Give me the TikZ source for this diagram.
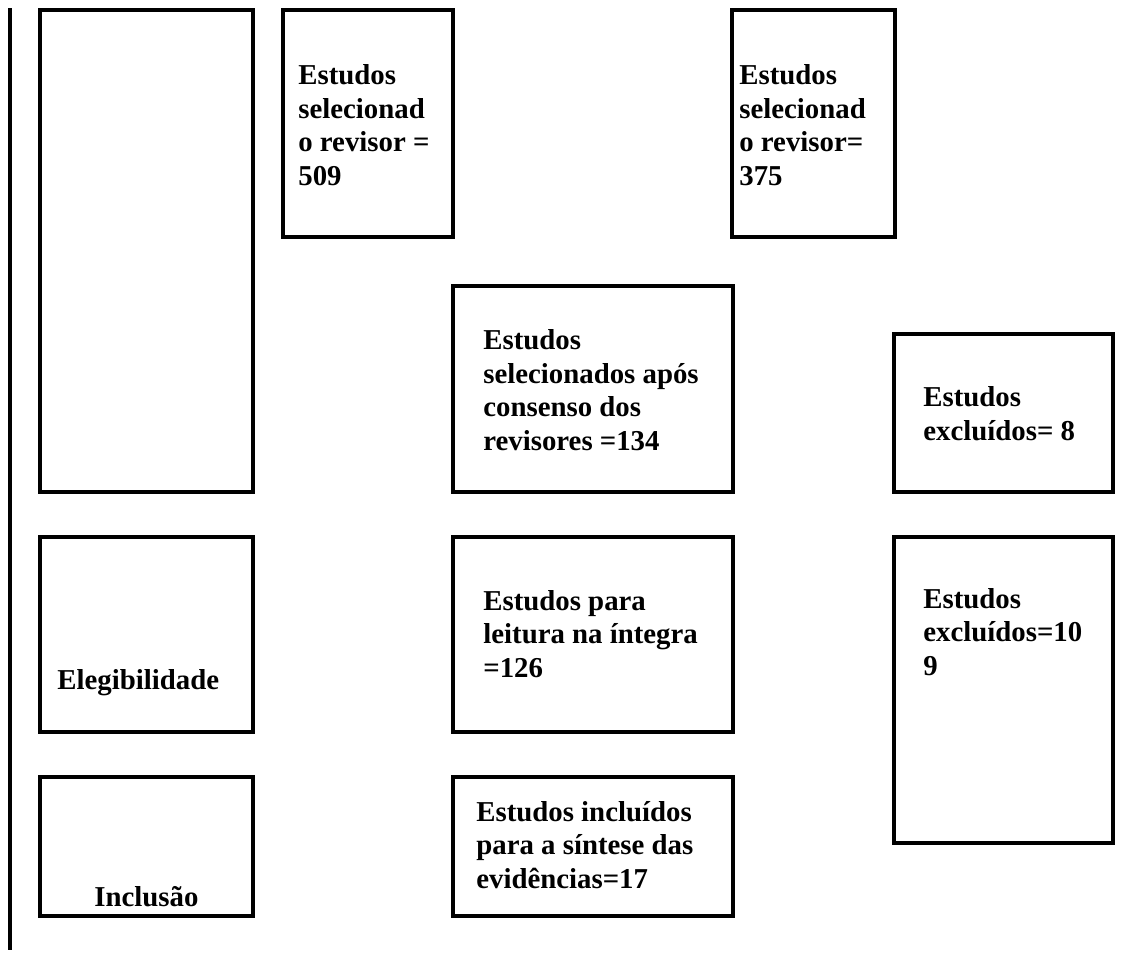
\documentclass[tikz,border=0pt]{standalone}
\usepackage{fontspec}
\setmainfont{Liberation Serif}
\usetikzlibrary{fit}

\begin{document}
\begin{tikzpicture}[x=0.02cm, y=-0.02cm,
        font=\fontsize{16.4}{19}\selectfont\bfseries,
        box/.style={draw, line width=1.9pt, inner sep=0pt},
        txt/.style={anchor=base west, align=left, inner sep=0pt}]
      \useasboundingbox (0,0) rectangle (1134,957);
      % bar on the left
      \coordinate (bartop) at (10,8);
      \coordinate (barbot) at (10,950);
      \draw[line width=1.9pt] (bartop) -- (barbot);
      % stage boxes
      \node[box, fit={(40,10) (253,492)}] (ident) {};
      \node[box, fit={(40,537) (253,732)}] (eleg) {};
      \node[box, fit={(40,777) (253,916)}] (incl) {};
      \node[txt] (elegtxt) at (57,689) {Elegibilidade};
      \node[txt] (incltxt) at (94,906) {Inclusão};
      % reviewers (base = last line)
      \node[box, fit={(283,10) (453,237)}] (rev1) {};
      \node[box, fit={(732,10) (895,237)}] (rev2) {};
      \node[txt] (rev1txt) at (298,185) {Estudos\\selecionad\\o revisor =\\509};
      \node[txt] (rev2txt) at (739,185) {Estudos\\selecionad\\o revisor=\\375};
      % consensus and exclusions
      \node[box, fit={(453,286) (733,492)}] (cons) {};
      \node[box, fit={(894,334) (1113,492)}] (excl1) {};
      \node[txt] (constxt) at (483,450)
        {Estudos\\selecionados após\\consenso dos\\revisores =134};
      \node[txt] (excl1txt) at (923,440) {Estudos\\excluídos= 8};
      % full text
      \node[box, fit={(453,537) (733,732)}] (full) {};
      \node[box, fit={(894,537) (1113,843)}] (excl2) {};
      \node[txt] (fulltxt) at (483,677) {Estudos para\\leitura na íntegra\\=126};
      \node[txt] (excl2txt) at (923,675) {Estudos\\excluídos=10\\9};
      % included
      \node[box, fit={(453,777) (733,916)}] (final) {};
      \node[txt] (finaltxt) at (476,888)
        {Estudos incluídos\\para a síntese das\\evidências=17};
    \end{tikzpicture}
\end{document}
